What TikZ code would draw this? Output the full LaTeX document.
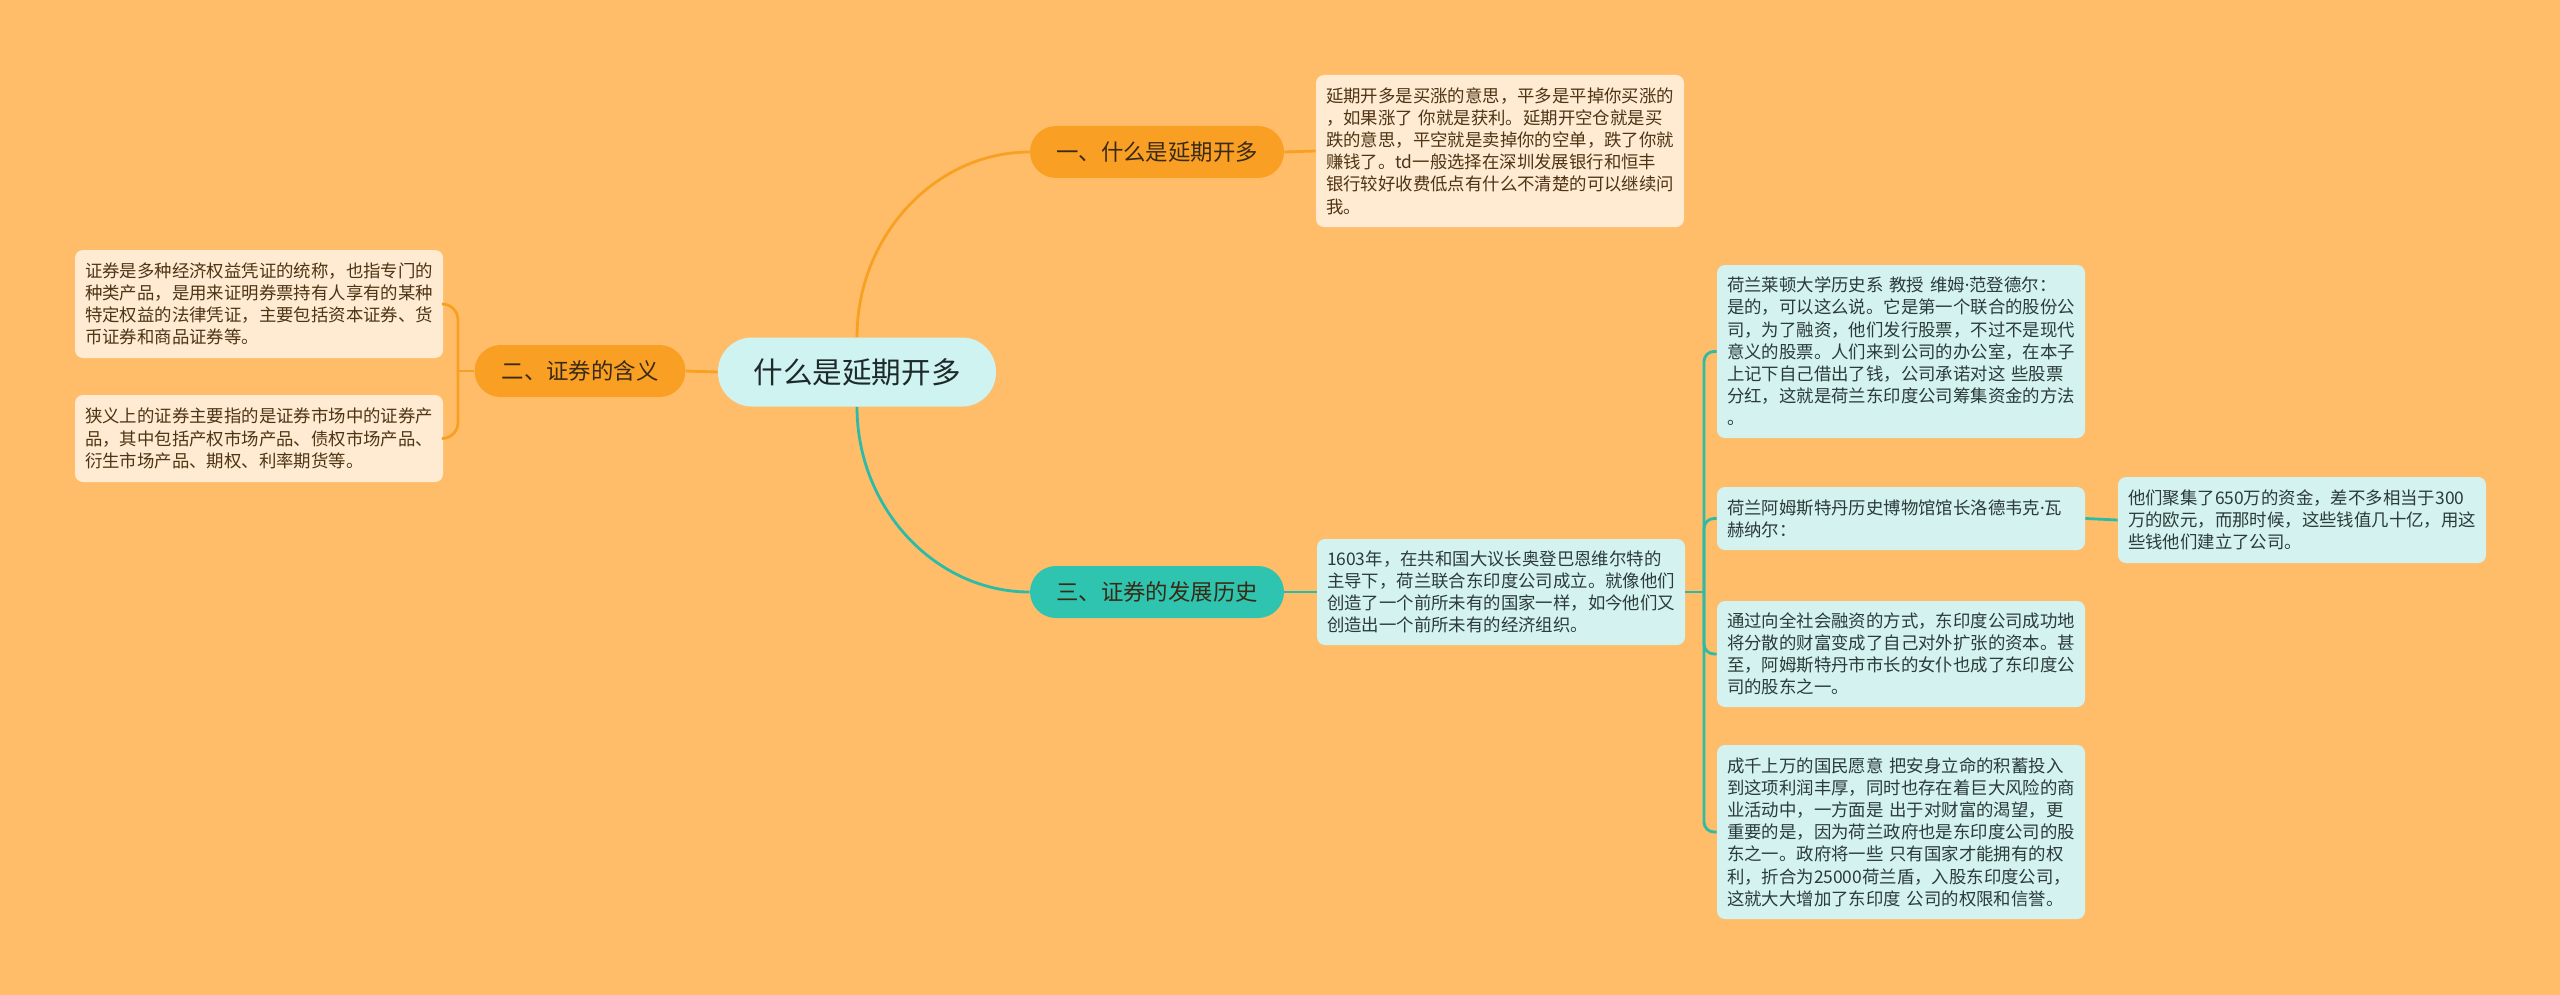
\documentclass[tikz,border=0pt]{standalone}
\usepackage{fontspec}
\setmainfont{Noto Sans CJK SC}
\newfontfamily\dotfont{Noto Sans}
\newcommand{\mdot}{{\dotfont ·}}
\definecolor{bgorange}{HTML}{FFBD6A}
\definecolor{lineorange}{HTML}{F7A022}
\definecolor{lineteal}{HTML}{2CBBA6}
\definecolor{topicorange}{HTML}{F9A024}
\definecolor{topicteal}{HTML}{2EC4B0}
\definecolor{rootfill}{HTML}{CFF3F0}
\definecolor{notefillorange}{HTML}{FEEBD1}
\definecolor{notefillteal}{HTML}{D4F2EF}
\definecolor{notetextorange}{HTML}{4E3414}
\definecolor{notetextteal}{HTML}{2A3B3A}
\definecolor{topictext}{HTML}{3A2A14}
\definecolor{roottext}{HTML}{1E2A2A}

\begin{document}
\begin{tikzpicture}[x=0.5pt,y=-0.5pt,
  orangeline/.style={draw=lineorange, line width=1.4pt},
  tealline/.style={draw=lineteal, line width=1.4pt},
  rootbox/.style={fill=rootfill, rounded corners=17pt, minimum width=139pt, minimum height=34.5pt, inner sep=0pt, text=roottext, font={\fontsize{14.8pt}{18pt}\selectfont}},
  topicbox/.style={rounded corners=13pt, minimum width=127pt, minimum height=26pt, inner sep=0pt, text=topictext, font={\fontsize{11.2pt}{14pt}\selectfont}},
  notebox/.style={rounded corners=4pt, text width=174pt, inner xsep=5pt, inner ysep=0pt, align=left, font={\fontsize{8.7pt}{11.1pt}\selectfont}},
  orangenote/.style={notebox, fill=notefillorange, text=notetextorange},
  tealnote/.style={notebox, fill=notefillteal, text=notetextteal}]
\fill[bgorange] (0,0) rectangle (2560,995);
\useasboundingbox (0,0) rectangle (2560,995);

% centre and main topics
\node[rootbox] (root) at (857,372) {什么是延期开多};
\node[topicbox, fill=topicorange] (t1) at (1157,152) {一、什么是延期开多};
\node[topicbox, fill=topicorange, minimum width=105.5pt] (t2) at (580,371) {二、证券的含义};
\node[topicbox, fill=topicteal] (t3) at (1157,592) {三、证券的发展历史};

% notes
\node[orangenote, minimum height=76pt] (d1) at (1500,151) {延期开多是买涨的意思，平多是平掉你买涨的\\，如果涨了 你就是获利。延期开空仓就是买\\跌的意思，平空就是卖掉你的空单，跌了你就\\赚钱了。td一般选择在深圳发展银行和恒丰\\银行较好收费低点有什么不清楚的可以继续问\\我。};
\node[orangenote, minimum height=54pt] (sA) at (259,304) {证券是多种经济权益凭证的统称，也指专门的\\种类产品，是用来证明券票持有人享有的某种\\特定权益的法律凭证，主要包括资本证券、货\\币证券和商品证券等。};
\node[orangenote, minimum height=43.5pt] (sB) at (259,438.5) {狭义上的证券主要指的是证券市场中的证券产\\品，其中包括产权市场产品、债权市场产品、\\衍生市场产品、期权、利率期货等。};
\node[tealnote, minimum height=53pt] (td) at (1501,592) {1603年，在共和国大议长奥登巴恩维尔特的\\主导下，荷兰联合东印度公司成立。就像他们\\创造了一个前所未有的国家一样，如今他们又\\创造出一个前所未有的经济组织。};
\node[tealnote, minimum height=86.5pt] (c1) at (1901,351.5) {荷兰莱顿大学历史系 教授 维姆\mdot 范登德尔：\\是的，可以这么说。它是第一个联合的股份公\\司，为了融资，他们发行股票，不过不是现代\\意义的股票。人们来到公司的办公室，在本子\\上记下自己借出了钱，公司承诺对这 些股票\\分红，这就是荷兰东印度公司筹集资金的方法\\。};
\node[tealnote, minimum height=31.5pt] (c2) at (1901,518.5) {荷兰阿姆斯特丹历史博物馆馆长洛德韦克\mdot 瓦\\赫纳尔：};
\node[tealnote, minimum height=53pt] (c3) at (1901,654) {通过向全社会融资的方式，东印度公司成功地\\将分散的财富变成了自己对外扩张的资本。甚\\至，阿姆斯特丹市市长的女仆也成了东印度公\\司的股东之一。};
\node[tealnote, minimum height=87pt] (c4) at (1901,832) {成千上万的国民愿意 把安身立命的积蓄投入\\到这项利润丰厚，同时也存在着巨大风险的商\\业活动中，一方面是 出于对财富的渴望，更\\重要的是，因为荷兰政府也是东印度公司的股\\东之一。政府将一些 只有国家才能拥有的权\\利，折合为25000荷兰盾，入股东印度公司，\\这就大大增加了东印度 公司的权限和信誉。};
\node[tealnote, minimum height=43pt] (g1) at (2302,520) {他们聚集了650万的资金，差不多相当于300\\万的欧元，而那时候，这些钱值几十亿，用这\\些钱他们建立了公司。};

% connectors
\coordinate (lb) at (458,371);
\coordinate (rb) at (1704,592);
\draw[orangeline] (root.north) .. controls (857,236) and (935,152) .. (t1.west);
\draw[tealline] (root.south) .. controls (857,508) and (935,592) .. (t3.west);
\draw[orangeline] (root.west) -- (t2.east);
\draw[orangeline] (t1.east) -- (d1.west);
\draw[orangeline] (t2.west) -- (lb);
\draw[orangeline, rounded corners=8pt] (lb) |- (sA.east);
\draw[orangeline, rounded corners=8pt] (lb) |- (sB.east);
\draw[tealline] (t3.east) -- (td.west);
\draw[tealline] (td.east) -- (rb);
\foreach \c in {c1,c2,c3,c4}
  \draw[tealline, rounded corners=5pt] (rb) |- (\c.west);
\draw[tealline] (c2.east) -- (g1.west);
\end{tikzpicture}
\end{document}
